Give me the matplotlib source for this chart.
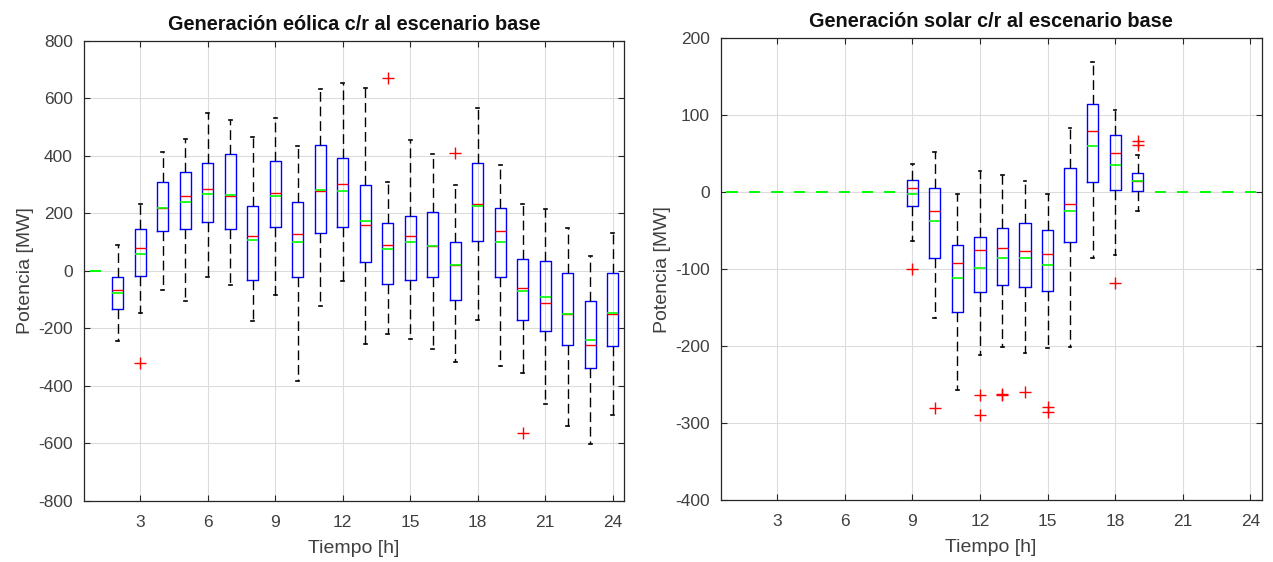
import matplotlib
matplotlib.use("Agg")
import matplotlib.pyplot as plt

plt.rcParams["font.family"] = ["Liberation Sans", "DejaVu Sans"]
plt.rcParams["axes.unicode_minus"] = False

hours = list(range(1, 25))
tick_hours = [3, 6, 9, 12, 15, 18, 21, 24]

# Wind generation deviation from base scenario [MW], per hour
wind_whislo = [0, -243, -146, -67, -106, -20, -49, -175, -85, -384, -121, -35,
               -255, -220, -238, -270, -315, -172, -329, -354, -464, -540, -603, -502]
wind_q1 = [0, -132, -19, 138, 145, 170, 147, -32, 153, -21, 133, 153,
           31, -44, -32, -21, -100, 103, -22, -169, -209, -256, -336, -261]
wind_med = [0, -67, 78, 218, 261, 284, 262, 122, 269, 128, 276, 303,
            159, 89, 123, 88, 19, 234, 140, -59, -111, -151, -256, -150]
wind_mean = [0, -77, 57, 218, 238, 268, 264, 109, 260, 100, 282, 279,
             174, 77, 100, 88, 19, 227, 102, -70, -90, -151, -240, -145]
wind_q3 = [0, -21, 147, 308, 342, 374, 405, 225, 381, 239, 439, 391,
           300, 167, 191, 204, 99, 374, 219, 43, 34, -6, -106, -7]
wind_whishi = [0, 89, 232, 412, 458, 550, 524, 466, 533, 434, 633, 652,
               634, 310, 454, 406, 300, 565, 368, 232, 214, 150, 53, 130]
wind_fliers = [[], [], [-320], [], [], [], [], [], [], [], [], [],
               [], [672], [], [], [410], [], [], [-565], [], [], [], []]

# Solar generation deviation from base scenario [MW], per hour
solar_whislo = [0, 0, 0, 0, 0, 0, 0, 0, -64, -163, -257, -211,
                -201, -209, -203, -201, -86, -81, -24, 0, 0, 0, 0, 0]
solar_q1 = [0, 0, 0, 0, 0, 0, 0, 0, -18, -86, -156, -130,
            -120, -123, -128, -65, 13, 3, 1, 0, 0, 0, 0, 0]
solar_med = [0, 0, 0, 0, 0, 0, 0, 0, 6, -24, -92, -75,
             -73, -76, -80, -15, 80, 51, 14, 0, 0, 0, 0, 0]
solar_mean = [0, 0, 0, 0, 0, 0, 0, 0, -2, -38, -111, -98,
              -86, -85, -95, -24, 60, 35, 15, 0, 0, 0, 0, 0]
solar_q3 = [0, 0, 0, 0, 0, 0, 0, 0, 16, 6, -69, -58,
            -46, -40, -49, 32, 115, 74, 25, 0, 0, 0, 0, 0]
solar_whishi = [0, 0, 0, 0, 0, 0, 0, 0, 37, 52, -2, 27,
                22, 14, -2, 84, 169, 107, 49, 0, 0, 0, 0, 0]
solar_fliers = [[], [], [], [], [], [], [], [], [-100], [-280], [], [-263, -290],
                [-262, -264], [-259], [-279, -286], [], [], [-118], [67, 62], [], [], [], [], []]


def build_stats(lo, q1, med, mean, q3, hi, fliers):
    return [dict(whislo=a, q1=b, med=c, mean=d, q3=e, whishi=f, fliers=g)
            for a, b, c, d, e, f, g in zip(lo, q1, med, mean, q3, hi, fliers)]


def draw(ax, stats, title, ylim, yticks):
    ax.grid(True, color="#dcdcdc", linewidth=0.8, zorder=0)
    ax.set_axisbelow(True)

    # Hours with a spread get a full box; constant hours only show the mean line
    spread = [(h, s) for h, s in zip(hours, stats) if s["whishi"] != s["whislo"]]
    flat = [(h, s) for h, s in zip(hours, stats) if s["whishi"] == s["whislo"]]

    mean_style = dict(color="#00ff00", linewidth=1.2, linestyle="-")
    if spread:
        ax.bxp(
            [s for _, s in spread], positions=[h for h, _ in spread],
            widths=0.5, capwidths=0.12,
            showmeans=True, meanline=True, manage_ticks=False,
            boxprops=dict(color="#0000ff", linewidth=1.0),
            medianprops=dict(color="#ff0000", linewidth=1.0),
            meanprops=mean_style,
            whiskerprops=dict(color="black", linewidth=1.0, linestyle=(0, (7, 3.5))),
            capprops=dict(color="black", linewidth=1.2),
            flierprops=dict(marker="+", markeredgecolor="#ff0000", markersize=9,
                            markeredgewidth=1.0, linestyle="none"),
        )
    if flat:
        ax.bxp(
            [s for _, s in flat], positions=[h for h, _ in flat],
            widths=0.5, showbox=False, showcaps=False, showfliers=False,
            showmeans=True, meanline=True, manage_ticks=False,
            medianprops=mean_style, meanprops=mean_style,
            whiskerprops=dict(linewidth=0),
        )

    ax.set_xlim(0.5, 24.5)
    ax.set_ylim(*ylim)
    ax.set_xticks(tick_hours)
    ax.set_yticks(yticks)
    ax.tick_params(direction="in", length=4, width=0.8, top=True, right=True,
                   colors="#262626", labelcolor="#404040", labelsize=12.5)
    ax.tick_params(axis="x", pad=10)
    ax.tick_params(axis="y", pad=8)
    for s in ax.spines.values():
        s.set_color("#262626")
        s.set_linewidth(0.9)
    ax.set_title(title, fontsize=14.3, fontweight="bold", color="#111111", pad=8)
    ax.set_xlabel("Tiempo [h]", fontsize=14, color="#404040", labelpad=7)
    ax.set_ylabel("Potencia [MW]", fontsize=14, color="#404040", labelpad=3)


fig = plt.figure(figsize=(12.73, 5.62), dpi=100)
ax1 = fig.add_axes([0.066, 0.1085, 0.4242, 0.819])
ax2 = fig.add_axes([0.5661, 0.1103, 0.425, 0.8215])

draw(ax1, build_stats(wind_whislo, wind_q1, wind_med, wind_mean, wind_q3,
                      wind_whishi, wind_fliers),
     "Generación eólica c/r al escenario base", (-800, 800),
     list(range(-800, 801, 200)))
draw(ax2, build_stats(solar_whislo, solar_q1, solar_med, solar_mean, solar_q3,
                      solar_whishi, solar_fliers),
     "Generación solar c/r al escenario base", (-400, 200),
     list(range(-400, 201, 100)))

fig.savefig("out.png", dpi=100)
